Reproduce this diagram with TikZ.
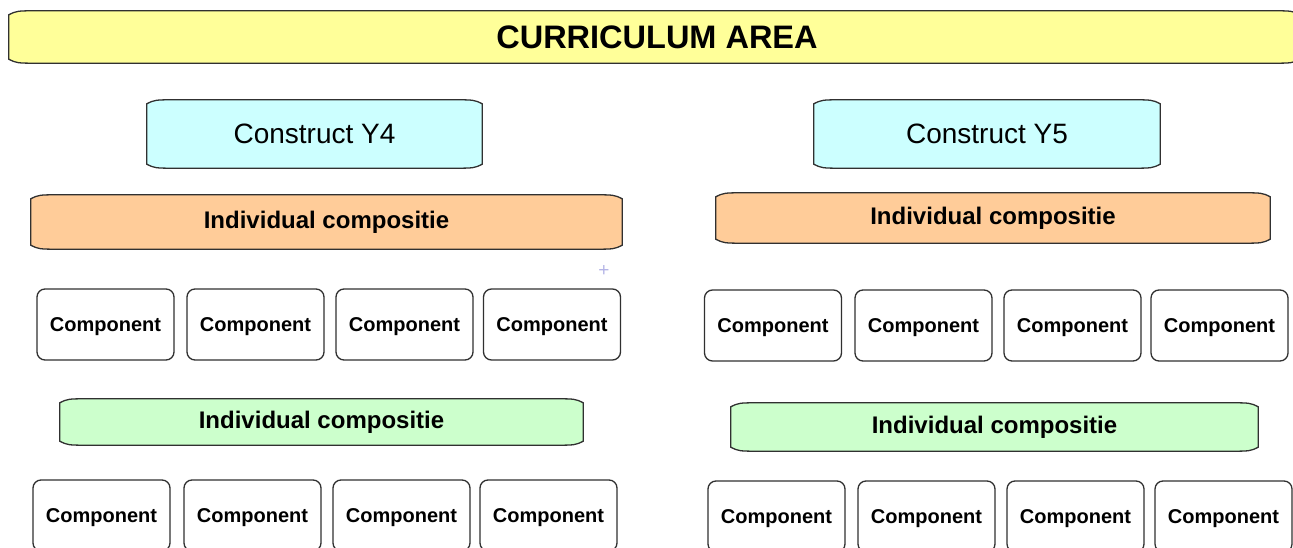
\documentclass[tikz,border=0pt]{standalone}
\usepackage{fontspec}
\setmainfont{Liberation Sans}
\usetikzlibrary{backgrounds,calc}
\definecolor{bannerY}{HTML}{FFFF99}
\definecolor{constC}{HTML}{CCFFFF}
\definecolor{orangeC}{HTML}{FFCC99}
\definecolor{greenC}{HTML}{CCFFCC}
\definecolor{edgecol}{HTML}{303030}
\definecolor{plusc}{HTML}{B4B4E6}
\newcommand\tapeshape[2]{%
  \path[fill=#2, draw=edgecol, line width=1.3pt]
    ($(#1.north west)+(0,-4)$) .. controls ($(#1.north west)+(8,0)$) .. ($(#1.north west)+(30,0)$)
    -- ($(#1.north east)+(-30,0)$) .. controls ($(#1.north east)+(-8,0)$) .. ($(#1.north east)+(0,-4)$)
    -- ($(#1.south east)+(0,4)$) .. controls ($(#1.south east)+(-8,0)$) .. ($(#1.south east)+(-30,0)$)
    -- ($(#1.south west)+(30,0)$) .. controls ($(#1.south west)+(8,0)$) .. ($(#1.south west)+(0,4)$) -- cycle;}
\tikzset{
  tapebox/.style={draw=none, inner sep=0pt, anchor=center},
  titletext/.style={font=\bfseries\fontsize{32.5}{36}\selectfont, text depth=0pt},
  consttext/.style={font=\fontsize{28}{32}\selectfont, text depth=0pt},
  ictext/.style={font=\bfseries\fontsize{24}{28}\selectfont},
  compbox/.style={draw=edgecol, fill=white, rounded corners=8pt, line width=1.3pt,
    minimum width=137pt, minimum height=71pt, inner sep=0pt, text depth=0pt,
    font=\bfseries\fontsize{20}{24}\selectfont},
}
\begin{document}
\begin{tikzpicture}[x=1pt,y=1pt]
\useasboundingbox (0,0) rectangle (1293,548);
% banner
\node[tapebox, titletext, minimum width=1291pt, minimum height=52pt] (banner) at (654.5,511) {\hspace*{5pt}CURRICULUM AREA};
% constructs
\node[tapebox, consttext, minimum width=335pt, minimum height=68pt] (cy4) at (314.5,414) {Construct Y4};
\node[tapebox, consttext, minimum width=346pt, minimum height=68pt] (cy5) at (987,414) {Construct Y5};
% individual composities
\node[tapebox, ictext, minimum width=591pt, minimum height=54pt] (icol) at (326.5,326) {Individual compositie};
\node[tapebox, ictext, minimum width=554pt, minimum height=50pt] (icor) at (993,330) {Individual compositie};
\node[tapebox, ictext, minimum width=523pt, minimum height=46pt] (icgl) at (321.5,126) {Individual compositie};
\node[tapebox, ictext, minimum width=527pt, minimum height=48pt] (icgr) at (994.5,121) {Individual compositie};
% components row 1
\node[compbox] (a1) at (105.5,223.5) {Component};
\node[compbox] (a2) at (255.5,223.5) {Component};
\node[compbox] (a3) at (404.5,223.5) {Component};
\node[compbox] (a4) at (552,223.5) {Component};
\node[compbox] (b1) at (773,222.5) {Component};
\node[compbox] (b2) at (923.5,222.5) {Component};
\node[compbox] (b3) at (1072.5,222.5) {Component};
\node[compbox] (b4) at (1219.5,222.5) {Component};
% components row 2
\node[compbox] (c1) at (101.5,32.5) {Component};
\node[compbox] (c2) at (252.5,32.5) {Component};
\node[compbox] (c3) at (401.5,32.5) {Component};
\node[compbox] (c4) at (548.5,32.5) {Component};
\node[compbox] (d1) at (776.5,31.5) {Component};
\node[compbox] (d2) at (926.5,31.5) {Component};
\node[compbox] (d3) at (1075.5,31.5) {Component};
\node[compbox] (d4) at (1223.5,31.5) {Component};
% small plus mark
\node[text=plusc, inner sep=0pt, font=\fontsize{19}{19}\selectfont] (plus) at (604,277) {+};
\begin{scope}[on background layer]
  \tapeshape{banner}{bannerY}
  \tapeshape{cy4}{constC}
  \tapeshape{cy5}{constC}
  \tapeshape{icol}{orangeC}
  \tapeshape{icor}{orangeC}
  \tapeshape{icgl}{greenC}
  \tapeshape{icgr}{greenC}
\end{scope}
\end{tikzpicture}
\end{document}
